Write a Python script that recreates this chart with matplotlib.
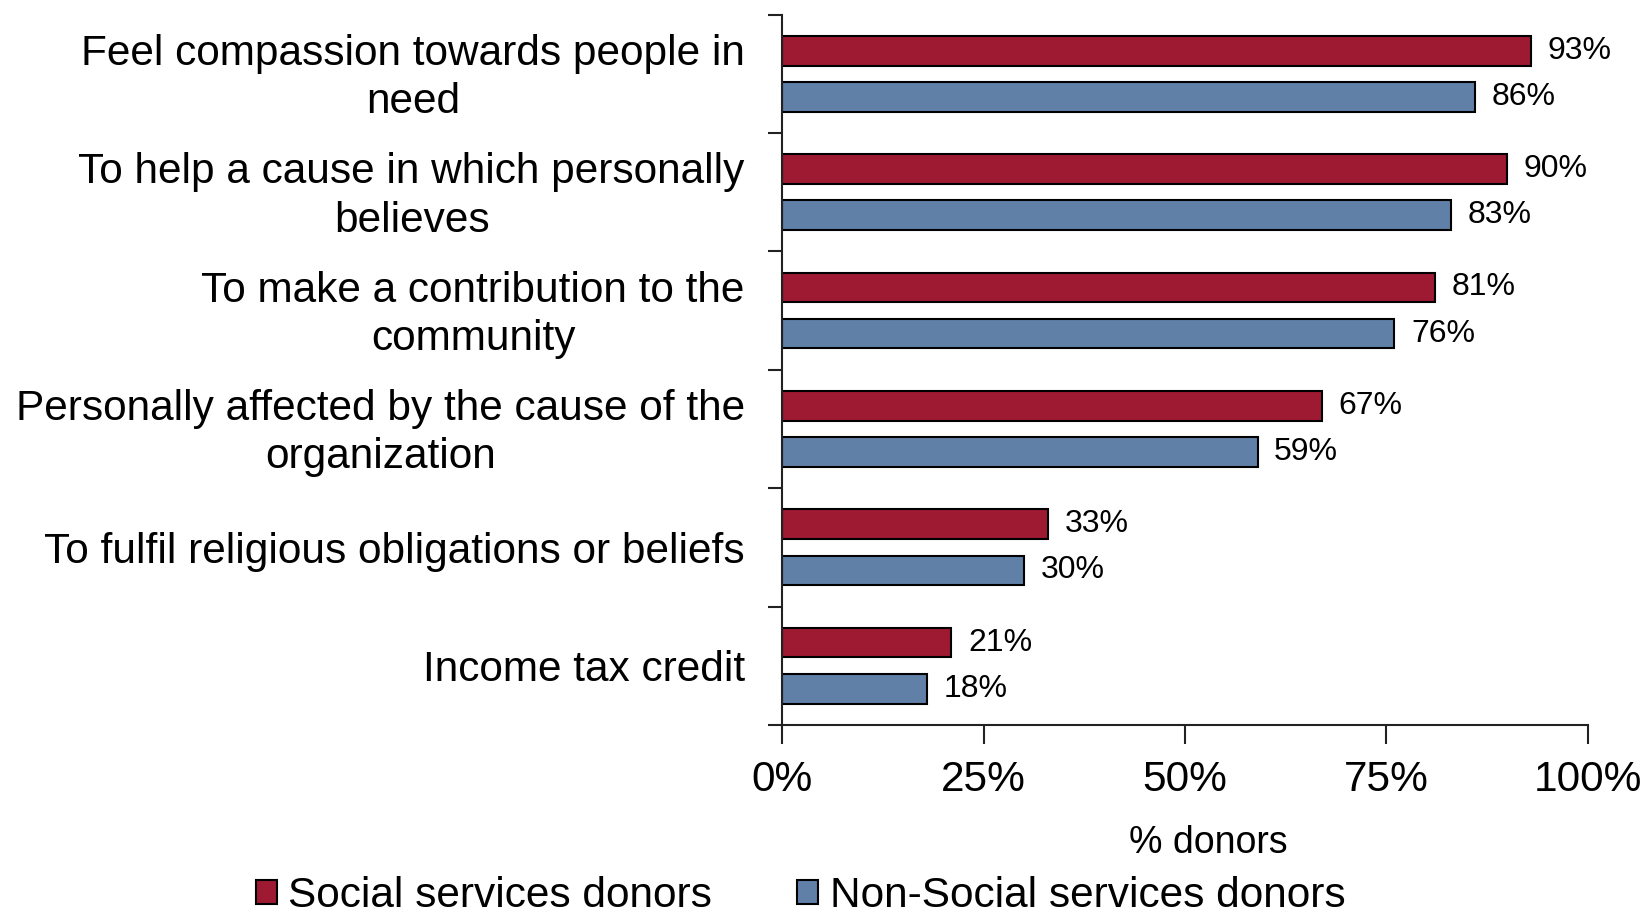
import matplotlib
matplotlib.use("Agg")
import matplotlib.pyplot as plt
import matplotlib.transforms as mtransforms
import numpy as np

plt.rcParams['font.family'] = ['Liberation Sans', 'DejaVu Sans']

categories = [
    "Feel compassion towards people in\nneed",
    "To help a cause in which personally\nbelieves",
    "To make a contribution to the\ncommunity",
    "Personally affected by the cause of the\norganization",
    "To fulfil religious obligations or beliefs",
    "Income tax credit",
]
social = [93, 90, 81, 67, 33, 21]
non_social = [86, 83, 76, 59, 30, 18]
series_names = ["Social services donors", "Non-Social services donors"]
x_ticks = [0, 25, 50, 75, 100]
x_tick_labels = ["0%", "25%", "50%", "75%", "100%"]

red = "#9E1A32"
blue = "#6080A8"

fig = plt.figure(figsize=(16.47, 9.13), dpi=100)
ax = fig.add_axes([0.475, 0.206, 0.489, 0.778])

n = len(categories)
y = np.arange(n)
h = 0.25
off = 0.195

b1 = ax.barh(y - off, social, height=h, color=red, edgecolor="black", linewidth=1.5,
             label=series_names[0])
b2 = ax.barh(y + off, non_social, height=h, color=blue, edgecolor="black", linewidth=1.5,
             label=series_names[1])

ax.bar_label(b1, labels=[f"{v}%" for v in social], padding=12, fontsize=23)
ax.bar_label(b2, labels=[f"{v}%" for v in non_social], padding=12, fontsize=23)

ax.set_ylim(n - 0.5, -0.5)
ax.set_xlim(0, 100)

ax.set_yticks(y)
ax.set_yticklabels(categories, fontsize=30.5, ha="right", va="center",
                   multialignment="center", linespacing=1.27)
ax.tick_params(axis="y", which="major", length=0, pad=27)
ax.set_yticks(np.arange(n + 1) - 0.5, minor=True)
ax.tick_params(axis="y", which="minor", length=10, width=1.5, color="#222222")

# nudge category labels slightly down
shift = mtransforms.ScaledTranslation(0, -3 / 72, fig.dpi_scale_trans)
for lbl in ax.get_yticklabels():
    lbl.set_transform(lbl.get_transform() + shift)

ax.set_xticks(x_ticks)
ax.set_xticklabels(x_tick_labels, fontsize=30.5)
ax.tick_params(axis="x", length=14, width=1.5, color="#222222", pad=11)

for s in ["top", "right"]:
    ax.spines[s].set_visible(False)
for s in ["left", "bottom"]:
    ax.spines[s].set_linewidth(1.5)
    ax.spines[s].set_color("#222222")

ax.set_xlabel("% donors", fontsize=27)
ax.xaxis.set_label_coords(0.529, -0.141)

fig.legend(handles=[b1, b2], labels=series_names, loc="center",
           bbox_to_anchor=(0.486, 0.019), ncol=2, frameon=False, fontsize=30.5,
           handlelength=0.5, handleheight=0.5, handletextpad=0.27, columnspacing=2.0,
           borderpad=0)

fig.savefig("out.png", dpi=100)
